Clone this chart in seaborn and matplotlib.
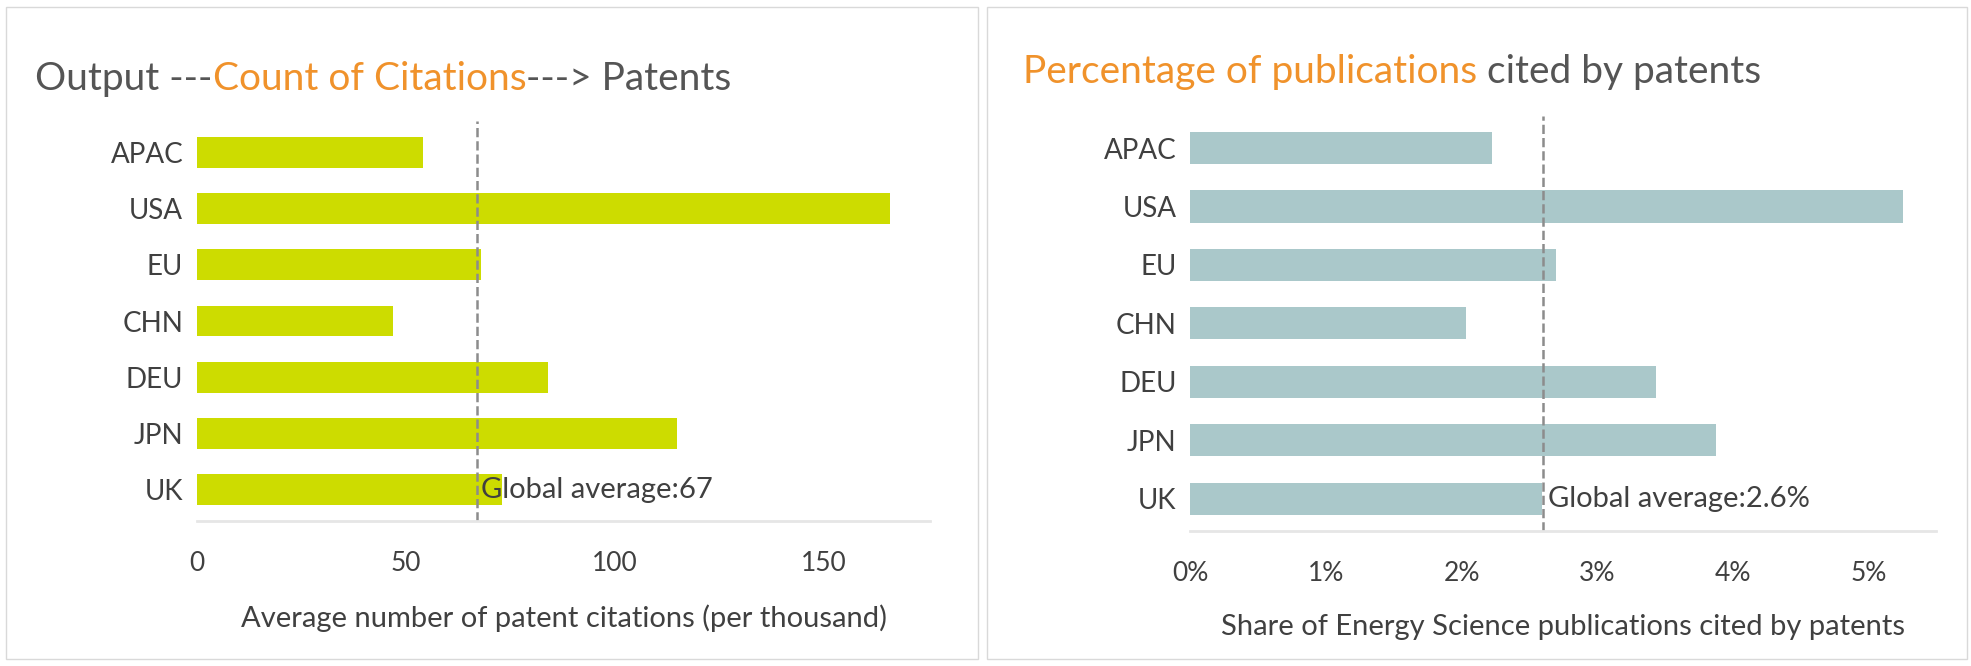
import matplotlib
matplotlib.use("Agg")
from matplotlib import pyplot as plt
from matplotlib.patches import Rectangle
import seaborn as sns
import pandas as pd

regions = ["APAC", "USA", "EU", "CHN", "DEU", "JPN", "UK"]
citations = [54, 166, 68, 47, 84, 115, 73]
cite_avg = 67
share_pct = [2.22, 5.25, 2.69, 2.03, 3.43, 3.87, 2.59]
share_avg = 2.6

plt.rcParams["font.family"] = "Lato"
fig = plt.figure(figsize=(19.71, 6.66), dpi=100)

# panel frames
for x0, w in [(0.003, 0.493), (0.501, 0.497)]:
    fig.patches.append(Rectangle((x0, 0.01), w, 0.98, transform=fig.transFigure,
                                 fill=False, ec="#d9d9d9", lw=1))

ax1 = fig.add_axes([0.100, 0.218, 0.372, 0.60])
ax2 = fig.add_axes([0.604, 0.203, 0.378, 0.623])

df1 = pd.DataFrame({"region": regions, "val": citations})
sns.barplot(data=df1, x="val", y="region", color="#cddc00", width=0.55, ax=ax1, saturation=1)
df2 = pd.DataFrame({"region": regions, "val": share_pct})
sns.barplot(data=df2, x="val", y="region", color="#aac8ca", width=0.55, ax=ax2, saturation=1)

for ax, avg, lab, xmax, ticks, tl in [
    (ax1, cite_avg, "Global average:67", 175.6, [0, 50, 100, 150], ["0", "50", "100", "150"]),
    (ax2, share_avg, "Global average:2.6%", 5.49, [0, 1, 2, 3, 4, 5], ["0%", "1%", "2%", "3%", "4%", "5%"]),
]:
    ax.axvline(avg, color="#8c8c8c", ls="--", lw=1.8, ymin=0, ymax=1)
    ax.text(avg + xmax * 0.006, 6, lab, va="center", ha="left", fontsize=21, color="#404040")
    ax.set_xlim(0, xmax)
    ax.set_ylim(6.55, -0.55)
    ax.set_xticks(ticks)
    ax.set_xticklabels(tl, fontsize=19, color="#404040")
    ax.tick_params(axis="y", labelsize=20, colors="#404040", length=0, pad=10)
    ax.tick_params(axis="x", length=0, pad=22)
    ax.set_ylabel("")
    for s in ["top", "right", "left"]:
        ax.spines[s].set_visible(False)
    ax.spines["bottom"].set_color("#e6e6e6")
    ax.spines["bottom"].set_linewidth(2)

ax1.set_xlabel("Average number of patent citations (per thousand)", fontsize=21,
               color="#404040", labelpad=20)
ax2.set_xlabel("Share of Energy Science publications cited by patents", fontsize=21,
               color="#404040", labelpad=20)

# titles with coloured words
fig.canvas.draw()
r = fig.canvas.get_renderer()
def after(prev, s, c, y):
    bb = prev.get_window_extent(r)
    x = fig.transFigure.inverted().transform((bb.x1, bb.y0))[0]
    return fig.text(x, y, s, fontsize=28, color=c)

t = fig.text(0.018, 0.865, "Output ---", fontsize=28, color="#555555")
t2 = after(t, "Count of Citations", "#f0922b", 0.865)
after(t2, "---> Patents", "#555555", 0.865)

u = fig.text(0.519, 0.875, "Percentage of publications", fontsize=28, color="#f0922b")
after(u, " cited by patents", "#555555", 0.875)

fig.savefig("out.png", dpi=100)
